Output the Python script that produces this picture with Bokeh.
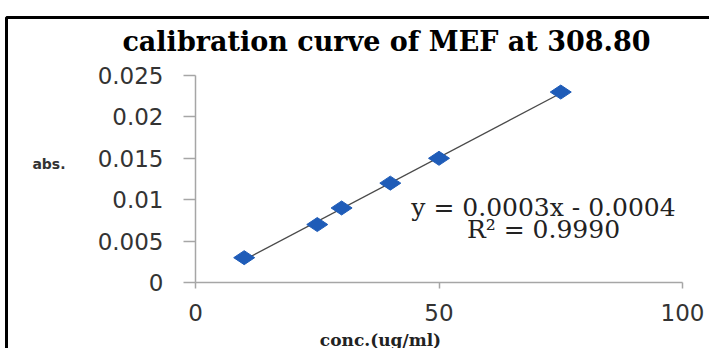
import numpy as np
from bokeh.plotting import figure
from bokeh.models import Range1d, Label, FixedTicker, BoxAnnotation
from bokeh.embed import file_html
from bokeh.resources import INLINE

# data
conc = [10, 25, 30, 40, 50, 75]
absorbance = [0.003, 0.007, 0.009, 0.012, 0.015, 0.023]
x_ticks = [0, 50, 100]
x_tick_labels = ["0", "50", "100"]
y_ticks = [0, 0.005, 0.01, 0.015, 0.02, 0.025]
y_tick_labels = ["0", "0.005", "0.01", "0.015", "0.02", "0.025"]
title_text = "calibration curve of MEF at 308.80"
x_label = "conc.(ug/ml)"
y_label = "abs."
eq_line1 = "y = 0.0003x - 0.0004"
eq_line2 = "R\u00b2 = 0.9990"

# linear trend line (least squares fit)
slope, intercept = np.polyfit(conc, absorbance, 1)
fit_x = [min(conc), max(conc)]
fit_y = [slope * v + intercept for v in fit_x]

# layout (canvas pixels); the frame covers the whole canvas
W, H = 709, 348
X0_PX, X100_PX = 195, 682      # canvas x of x=0 and x=100
Y0_PX, YTOP_PX = 282, 75       # canvas y of y=0 and y=0.025
XMAX, YMAX = 100, 0.025
sx = (X100_PX - X0_PX) / XMAX
sy = (Y0_PX - YTOP_PX) / YMAX


def dx(px):
    return (px - X0_PX) / sx


def dy(py):
    return (Y0_PX - py) / sy


p = figure(width=W, height=H, output_backend="svg", toolbar_location=None,
           x_range=Range1d(dx(0), dx(W)), y_range=Range1d(dy(H), dy(0)),
           min_border=0)
p.background_fill_color = "white"
p.border_fill_color = "white"
p.outline_line_color = None
p.xgrid.grid_line_color = None
p.ygrid.grid_line_color = None

# axes drawn inside the frame at the origin
for ax in (p.xaxis[0], p.yaxis[0]):
    ax.fixed_location = 0
    ax.axis_line_color = "#a6a6a6"
    ax.axis_line_width = 1.5
    ax.major_tick_line_color = "#a6a6a6"
    ax.major_tick_line_width = 1.5
    ax.minor_tick_line_color = None
    ax.major_tick_in = 0
    ax.major_label_text_font = "DejaVu Sans"
    ax.major_label_text_font_size = "23px"
    ax.major_label_text_color = "#333333"

p.xaxis.bounds = (0, XMAX)
p.xaxis.ticker = FixedTicker(ticks=x_ticks)
p.xaxis.major_label_overrides = dict(zip(x_ticks, x_tick_labels))
p.xaxis.major_tick_out = 6
p.xaxis.major_label_standoff = 15

p.yaxis.bounds = (0, YMAX)
p.yaxis.ticker = FixedTicker(ticks=y_ticks)
p.yaxis.major_label_overrides = dict(zip(y_ticks, y_tick_labels))
p.yaxis.major_tick_out = 12
p.yaxis.major_label_standoff = 20

# outer border (top and left edges of the chart box)
p.add_layout(BoxAnnotation(left=dx(6), top=dy(17), right=dx(W + 20),
                           bottom=dy(H + 20), fill_alpha=0,
                           line_color="black", line_width=3, line_alpha=1))

# trend line and points
p.line(fit_x, fit_y, line_color="#4a4a4a", line_width=1.3)
p.scatter(conc, absorbance, marker="diamond", size=21, angle=np.pi / 2,
          fill_color="#1f5cb8", line_color="#1f5cb8")

# texts
p.add_layout(Label(x=dx(386), y=dy(41), text=title_text, text_align="center",
                   text_baseline="middle", text_font="DejaVu Serif",
                   text_font_style="bold", text_font_size="27px",
                   text_color="black"))
p.add_layout(Label(x=dx(543), y=dy(207), text=eq_line1, text_align="center",
                   text_baseline="middle", text_font="DejaVu Serif",
                   text_font_size="25px", text_color="#222222"))
p.add_layout(Label(x=dx(543), y=dy(229), text=eq_line2, text_align="center",
                   text_baseline="middle", text_font="DejaVu Serif",
                   text_font_size="25px", text_color="#222222"))
p.add_layout(Label(x=dx(65), y=dy(163), text=y_label, text_align="right",
                   text_baseline="middle", text_font="DejaVu Sans",
                   text_font_style="bold", text_font_size="14px",
                   text_color="#333333"))
p.add_layout(Label(x=dx(380), y=dy(329), text=x_label, text_align="center",
                   text_baseline="top", text_font="DejaVu Serif",
                   text_font_style="bold", text_font_size="17px",
                   text_color="#222222"))

open("out.html", "w").write(file_html(p, INLINE))
